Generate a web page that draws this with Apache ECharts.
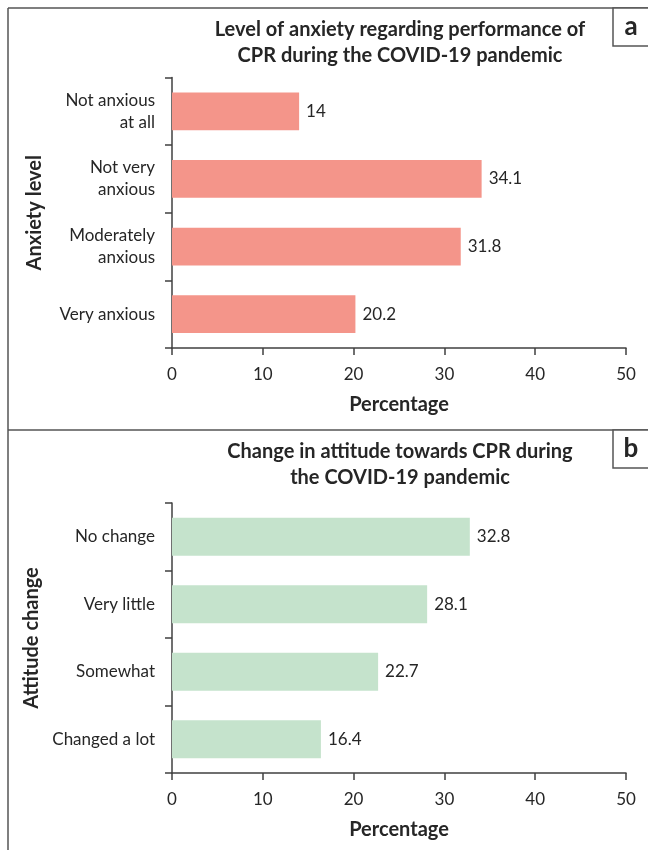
<!DOCTYPE html>
<html>
<head>
<meta charset="utf-8">
<script src="https://cdn.jsdelivr.net/npm/echarts@6/dist/echarts.min.js"></script>
<style>
  html, body { margin: 0; padding: 0; background: #fff; }
  #chart { width: 648px; height: 850px; }
</style>
</head>
<body>
<div id="chart"></div>
<script>
// 数据
const anxietyLevels = ["Not anxious\nat all", "Not very\nanxious", "Moderately\nanxious", "Very anxious"];
const anxietyValues = [14, 34.1, 31.8, 20.2];
const attitudeLevels = ["No change", "Very little", "Somewhat", "Changed a lot"];
const attitudeValues = [32.8, 28.1, 22.7, 16.4];
const percentTicks = [0, 10, 20, 30, 40, 50];

const FONT = "Lato";
const TXT = "#262626";
const LINE = "#404040";

let chart = echarts.init(document.getElementById("chart"));

function valueAxis(gridIndex) {
  return {
    type: "value",
    gridIndex: gridIndex,
    min: percentTicks[0],
    max: percentTicks[percentTicks.length - 1],
    interval: percentTicks[1] - percentTicks[0],
    name: "Percentage",
    nameLocation: "middle",
    nameGap: 47,
    nameTextStyle: { fontFamily: FONT, fontSize: 20, fontWeight: "bold", color: TXT },
    axisLine: { show: true, lineStyle: { color: LINE, width: 1.5 } },
    axisTick: { show: true, length: 7, lineStyle: { color: LINE, width: 1.5 } },
    axisLabel: { fontFamily: FONT, fontSize: 17, color: TXT, margin: 18 },
    splitLine: { show: false },
  };
}

function catAxis(gridIndex, data, name) {
  return {
    type: "category",
    gridIndex: gridIndex,
    data: data,
    inverse: true,
    name: name,
    nameLocation: "middle",
    nameGap: 127,
    nameRotate: 90,
    nameTextStyle: { fontFamily: FONT, fontSize: 20, fontWeight: "bold", color: TXT },
    axisLine: { show: true, lineStyle: { color: LINE, width: 1.5 } },
    axisTick: { show: true, length: 7, lineStyle: { color: LINE, width: 1.5 } },
    axisLabel: { fontFamily: FONT, fontSize: 17, color: TXT, margin: 17, lineHeight: 22, align: "right" },
  };
}

function barSeries(idx, values, color) {
  return {
    type: "bar",
    xAxisIndex: idx,
    yAxisIndex: idx,
    data: values,
    barCategoryGap: "44%",
    itemStyle: { color: color },
    label: {
      show: true,
      position: "right",
      distance: 7,
      fontFamily: FONT,
      fontSize: 17,
      color: TXT,
    },
  };
}

let option = {
  animation: false,
  grid: [
    { left: 172, top: 77.5, width: 454, height: 270.5 },
    { left: 172, top: 503, width: 454, height: 270 },
  ],
  xAxis: [valueAxis(0), valueAxis(1)],
  yAxis: [catAxis(0, anxietyLevels, "Anxiety level"), catAxis(1, attitudeLevels, "Attitude change")],
  series: [barSeries(0, anxietyValues, "#F4958A"), barSeries(1, attitudeValues, "#C5E3CC")],
  graphic: [
    // 外框
    { type: "line", shape: { x1: 8, y1: 8, x2: 8, y2: 850 }, style: { stroke: "#555", lineWidth: 1.5 } },
    { type: "line", shape: { x1: 8, y1: 8, x2: 648, y2: 8 }, style: { stroke: "#555", lineWidth: 1.5 } },
    { type: "line", shape: { x1: 8, y1: 430, x2: 648, y2: 430 }, style: { stroke: "#555", lineWidth: 1.5 } },
    // 面板标签
    { type: "rect", shape: { x: 613, y: 8, width: 40, height: 38 }, style: { fill: "#fff", stroke: "#555", lineWidth: 1.5 } },
    { type: "text", x: 631, y: 27, style: { text: "a", fontFamily: FONT, fontSize: 26, fontWeight: "bold", fill: TXT, align: "center", verticalAlign: "middle" } },
    { type: "rect", shape: { x: 613, y: 430, width: 40, height: 38 }, style: { fill: "#fff", stroke: "#555", lineWidth: 1.5 } },
    { type: "text", x: 631, y: 449, style: { text: "b", fontFamily: FONT, fontSize: 26, fontWeight: "bold", fill: TXT, align: "center", verticalAlign: "middle" } },
    // 标题
    { type: "text", x: 400, y: 43, style: { text: "Level of anxiety regarding performance of\nCPR during the COVID-19 pandemic", fontFamily: FONT, fontSize: 20, fontWeight: "bold", fill: TXT, align: "center", verticalAlign: "middle", lineHeight: 26 } },
    { type: "text", x: 400, y: 465, style: { text: "Change in attitude towards CPR during\nthe COVID-19 pandemic", fontFamily: FONT, fontSize: 20, fontWeight: "bold", fill: TXT, align: "center", verticalAlign: "middle", lineHeight: 26 } },
  ],
};
chart.setOption(option);
</script>
</body>
</html>
